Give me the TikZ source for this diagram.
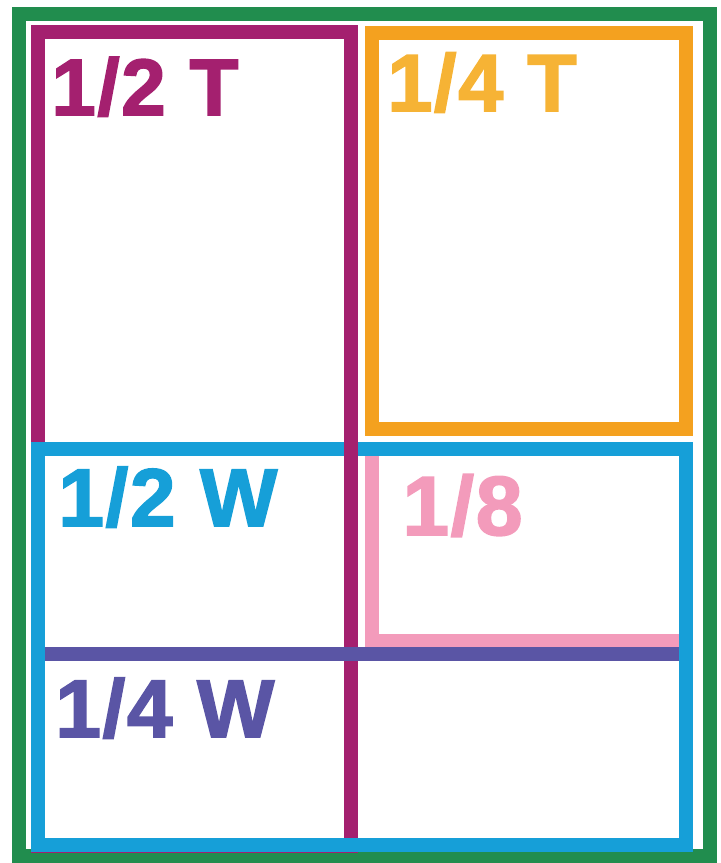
\documentclass[tikz,border=0pt]{standalone}
\usepackage{fontspec}
\setmainfont{Liberation Sans}
\newfontfamily\tagfamily[FakeBold=2,LetterSpace=2]{Liberation Sans Bold}
\usetikzlibrary{positioning}
\definecolor{frameGreen}{RGB}{33,141,78}
\definecolor{tPurple}{RGB}{164,32,111}
\definecolor{tOrange}{RGB}{244,161,31}
\definecolor{tOrangeText}{RGB}{246,179,53}
\definecolor{wBlue}{RGB}{22,159,216}
\definecolor{ePink}{RGB}{243,155,187}
\definecolor{qIndigo}{RGB}{90,85,165}
\newcommand{\tagsize}[1]{\tagfamily\fontsize{#1}{#1}\selectfont}

\begin{document}
\begin{tikzpicture}[x=0.5pt,y=-0.5pt,
  box/.style={line width=7pt},
  tag/.style={anchor=base west, inner sep=0pt}]
\useasboundingbox (0,0) rectangle (720,863);
% outer frame
\draw[box, frameGreen] (19,14) rectangle (710,856);
% 1/2 T column and 1/4 T box
\draw[box, tPurple] (38,32) rectangle (351,846);
\draw[box, tOrange] (372,32.5) rectangle (686,428.5);
% 1/8 sits under the 1/2 W box
\draw[box, ePink] (372,449) rectangle (686,640.5);
\draw[box, wBlue] (38,449) rectangle (686,845);
% purple divider runs over the blue top edge, the 1/4 W line over both
\draw[box, tPurple] (351,440) -- (351,838);
\draw[box, qIndigo] (45,653.7) -- (679,653.7);
% labels
\node[tag, text=tPurple, font=\tagsize{40pt}] (halfT) at (51,115) {1/2 T};
\node[tag, text=tOrangeText, font=\tagsize{40.5pt}] (quarterT) at (387,111) {1/4 T};
\node[tag, text=wBlue, font=\tagsize{41pt}] (halfW) at (58,526) {1/2 W};
\node[tag, text=ePink, font=\tagsize{42pt}] (eighth) at (402,535) {1/8};
\node[tag, text=qIndigo, font=\tagsize{41pt}] (quarterW) at (55,737) {1/4 W};
\end{tikzpicture}
\end{document}
